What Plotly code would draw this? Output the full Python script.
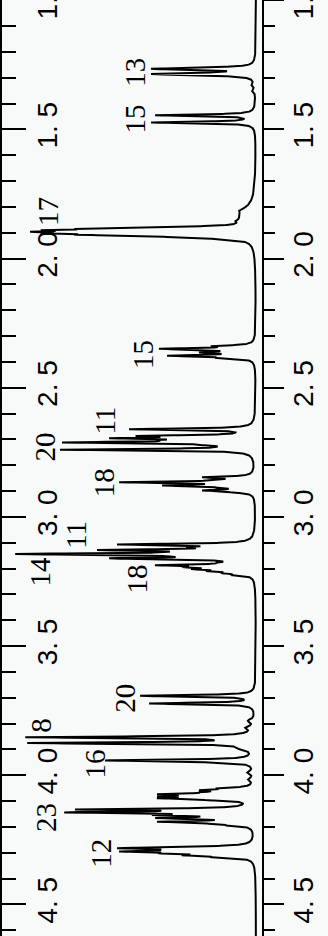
import numpy as np
import plotly.graph_objects as go

# Resolved lines of the 1H spectrum: chemical shift (ppm) and observed line height
LINE_PPM = [
    1.2596, 1.2654, 1.2692, 1.2758, 1.2808, 1.2858, 1.2923,            # H-13
    1.4450, 1.4731,                                                    # H-15
    1.8788, 1.8846, 1.8904, 1.8962, 1.9019, 1.9077, 1.9135, 1.9192, 1.9250,  # H-17
    2.3385, 2.3488, 2.3538, 2.3635, 2.3758, 2.3846,                    # H-15
    2.6604, 2.6865, 2.6950, 2.7031, 2.7115, 2.7212, 2.7288, 2.7396,    # H-11 / H-20
    2.8462, 2.8558, 2.8654, 2.8781, 2.8865, 2.8973, 2.9050,            # H-18
    3.1065, 3.1173, 3.1281, 3.1358, 3.1435, 3.1519, 3.1604, 3.1692,
    3.1769, 3.1865, 3.1942, 3.2019, 3.2096, 3.2173, 3.2250,            # H-11 / H-14 / H-18
    3.6923, 3.7219,                                                    # H-20
    3.8527, 3.8635, 3.8750,                                            # H-8
    3.9423, 3.9500,                                                    # H-16
    4.0500, 4.0577, 4.0654, 4.0731, 4.0808, 4.0885, 4.0962,            # H-2/3/4
    4.1319, 4.1435, 4.1538, 4.1654, 4.1796, 4.1865, 4.1942,            # H-2/3/4
    4.2769, 4.2819, 4.2885, 4.2950, 4.3019, 4.3096, 4.3173,            # H-12
]
LINE_HEIGHT = [
    45, 105, 60, 24, 58, 105, 42,
    101, 105,
    120, 180, 215, 226, 215, 180, 120, 70, 40,
    45, 97, 57, 57, 89, 40,
    127, 120, 147, 100, 194, 60, 40, 196,
    54, 40, 137, 94, 40, 54, 25,
    139, 70, 159, 90, 241, 90, 147, 40,
    40, 101, 74, 65, 50, 35, 25,
    116, 107,
    231, 30, 229,
    151, 50,
    40, 57, 57, 99, 99, 99, 50,
    181, 192, 104, 101, 99, 50, 30,
    80, 139, 97, 137, 97, 74, 45,
]

# Broad and minor baseline features: shift (ppm), height, half-width (ppm)
BROAD_PPM = [1.3270, 1.3500, 1.8290, 1.8115, 1.8540, 3.7885, 3.8154, 3.8962, 3.9885, 4.0154]
BROAD_HEIGHT = [3, 3, 14, 4, 5, 6, 7, 10, 6, 5]
BROAD_WIDTH = [0.006, 0.006, 0.035, 0.006, 0.006, 0.007, 0.007, 0.008, 0.007, 0.007]

# Proton assignments written beside the signals
LABEL_TEXT = ["13", "15", "17", "15", "11", "20", "18", "11", "14", "18",
              "20", "8", "16", "23", "12"]
LABEL_PPM = [1.2808, 1.4615, 1.8192, 2.3731, 2.6269, 2.7308, 2.8692, 3.0692,
             3.2115, 3.2423, 3.7038, 3.8077, 3.9577, 4.1654, 4.3038]
LABEL_INT = [121, 121, 208, 113, 151, 211, 152, 180, 216, 119,
             131, 215, 161, 210, 155]

TICK_PPM = [1.0, 1.5, 2.0, 2.5, 3.0, 3.5, 4.0, 4.5]
TICK_TEXT = ["1. 0", "1. 5", "2. 0", "2. 5", "3. 0", "3. 5", "4. 0", "4. 5"]

BG = "#f8faf9"
GAMMA = 0.0035  # Lorentzian half-width of a single line (ppm)


def lorentz(d, g):
    return g * g / (d * d + g * g)


axis_ppm = np.arange(0.99, 4.63, 0.0003)
pos = np.array(LINE_PPM)
hgt = np.array(LINE_HEIGHT, dtype=float)

# broad background contribution
broad = np.zeros_like(axis_ppm)
broad_at_lines = np.zeros_like(pos)
for c, h, w in zip(BROAD_PPM, BROAD_HEIGHT, BROAD_WIDTH):
    broad += h * lorentz(axis_ppm - c, w)
    broad_at_lines += h * lorentz(pos - c, w)

# line amplitudes chosen so each line tip reaches its observed height
A = lorentz(pos[:, None] - pos[None, :], GAMMA)
target = np.clip(hgt - broad_at_lines, 0, None)
amp = target.copy()
for _ in range(400):
    amp = np.clip(amp + 0.5 * (target - A @ amp), 0, None)

spectrum = broad + (amp[None, :] * lorentz(axis_ppm[:, None] - pos[None, :], GAMMA)).sum(axis=1)

PPM_RANGE = [4.622, 0.999]
minor_ppm = [round(v, 1) for v in np.arange(1.0, 4.61, 0.1) if round(v * 10) % 5 != 0]

fig = go.Figure()
fig.add_trace(go.Scatter(x=spectrum, y=axis_ppm, mode="lines",
                         line=dict(color="black", width=2.0),
                         hoverinfo="skip", showlegend=False))
fig.add_trace(go.Scatter(x=[0], y=[2.0], yaxis="y2", mode="markers",
                         marker=dict(opacity=0), hoverinfo="skip", showlegend=False))

for t, p, i in zip(LABEL_TEXT, LABEL_PPM, LABEL_INT):
    fig.add_annotation(x=i, y=p, text=t, textangle=-90, showarrow=False,
                       xanchor="center", yanchor="middle",
                       font=dict(family="Liberation Serif, Times New Roman, serif",
                                 size=29, color="black"))

tick_font = dict(family="Liberation Sans, Arial, sans-serif", size=28, color="black")
common = dict(range=PPM_RANGE, tickmode="array", tickvals=TICK_PPM, ticktext=TICK_TEXT,
              tickwidth=2, tickcolor="black", showline=True, linecolor="black",
              linewidth=2, showgrid=False, zeroline=False, tickangle=-90,
              tickfont=tick_font, ticklabeloverflow="allow", automargin=False)

fig.update_layout(
    template="none",
    width=328, height=936,
    margin=dict(l=2, r=66, t=0, b=0, pad=0),
    paper_bgcolor=BG, plot_bgcolor=BG,
    showlegend=False,
    xaxis=dict(range=[254, -6], visible=False, fixedrange=True, automargin=False),
    yaxis=dict(**common, side="left", ticks="inside", ticklen=24,
               ticklabelposition="inside",
               minor=dict(tickmode="array", tickvals=minor_ppm, ticks="inside",
                          ticklen=14, tickwidth=2, tickcolor="black", showgrid=False)),
    yaxis2=dict(**common, side="right", overlaying="y", anchor="x", ticks="outside",
                ticklen=20, ticklabelposition="outside", ticklabelstandoff=-5,
                minor=dict(tickmode="array", tickvals=minor_ppm, ticks="outside",
                           ticklen=11, tickwidth=2, tickcolor="black", showgrid=False)),
)

fig.write_html("out.html")
